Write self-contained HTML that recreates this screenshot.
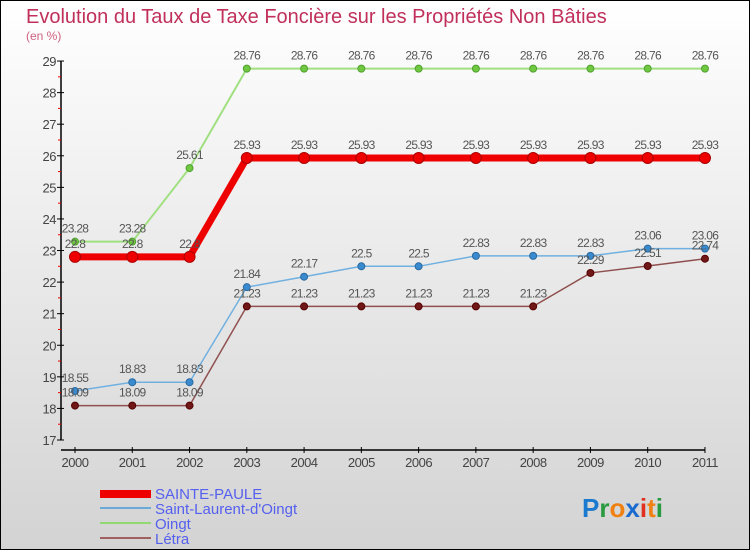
<!DOCTYPE html>
<html><head><meta charset="utf-8"><style>
body{margin:0}
#c{width:750px;height:550px;position:relative;background:linear-gradient(#fff,#d3d3d3);border:1px solid #000;box-sizing:border-box;overflow:hidden;font-family:"Liberation Sans",sans-serif}
</style></head><body>
<div id="c">
<svg id="s" width="750" height="550" style="position:absolute;left:-1px;top:-1px">
<text x="26" y="23" font-size="20" fill="#c0305a">Evolution du Taux de Taxe Foncière sur les Propriétés Non Bâties</text>
<text x="26" y="40" font-size="12" fill="#d06080">(en %)</text>
<g id="axes"></g><g id="series"></g>
<g>
<rect x="100" y="490" width="51" height="8" fill="#e00"/>
<text x="155" y="499" font-size="15" fill="#5560ee">SAINTE-PAULE</text>
<line x1="100" y1="508" x2="151" y2="508" stroke="#6aaad8" stroke-width="2"/>
<text x="155" y="514" font-size="15" fill="#5560ee">Saint-Laurent-d'Oingt</text>
<line x1="100" y1="523" x2="151" y2="523" stroke="#90d870" stroke-width="2"/>
<text x="155" y="529" font-size="15" fill="#5560ee">Oingt</text>
<line x1="100" y1="538" x2="151" y2="538" stroke="#a06060" stroke-width="2"/>
<text x="155" y="544" font-size="15" fill="#5560ee">Létra</text>
</g>
<text x="582" y="517" font-size="26" font-weight="bold"><tspan fill="#1a7ad0">P</tspan><tspan fill="#2a9a40">r</tspan><tspan fill="#f08010">o</tspan><tspan fill="#1a6ad0">x</tspan><tspan fill="#e03020">i</tspan><tspan fill="#f08010">t</tspan><tspan fill="#2a9a40">i</tspan></text>
</svg></div>
<script>
const years=[2000,2001,2002,2003,2004,2005,2006,2007,2008,2009,2010,2011];
const yTicks=[17,18,19,20,21,22,23,24,25,26,27,28,29];
const spVals=[22.8,22.8,22.8,25.93,25.93,25.93,25.93,25.93,25.93,25.93,25.93,25.93];
const sloVals=[18.55,18.83,18.83,21.84,22.17,22.5,22.5,22.83,22.83,22.83,23.06,23.06];
const oingtVals=[23.28,23.28,25.61,28.76,28.76,28.76,28.76,28.76,28.76,28.76,28.76,28.76];
const letraVals=[18.09,18.09,18.09,21.23,21.23,21.23,21.23,21.23,21.23,22.29,22.51,22.74];
const NS="http://www.w3.org/2000/svg";
const xS=i=>75+i*57.27;
const yS=v=>440-(v-17)*31.58;
function mk(t,a,p){const e=document.createElementNS(NS,t);for(const k in a)e.setAttribute(k,a[k]);p.appendChild(e);return e;}
const ax=document.getElementById('axes');
const yl=mk('line',{x1:61,y1:yS(29),x2:61,y2:440,stroke:'#000','stroke-width':1.5},ax);


yTicks.forEach(v=>{
 mk('line',{x1:57,y1:yS(v),x2:64,y2:yS(v),stroke:'#000'},ax);
 if(v<29)mk('line',{x1:58,y1:yS(v+0.5),x2:61,y2:yS(v+0.5),stroke:'#e00'},ax);
 const t=mk('text',{x:56,y:yS(v)+5,'font-size':13,fill:'#444','text-anchor':'end','letter-spacing':'-0.5'},ax);t.textContent=v;
 
 
});
const xl=mk('line',{x1:61,y1:450,x2:xS(11),y2:450,stroke:'#000','stroke-width':1.5},ax);


years.forEach((y,i)=>{
 mk('line',{x1:xS(i),y1:447,x2:xS(i),y2:453,stroke:'#000'},ax);
 const t=mk('text',{x:xS(i),y:467,'font-size':13,fill:'#444','text-anchor':'middle','letter-spacing':'-0.5'},ax);t.textContent=y;
 
 
});
const sg=document.getElementById('series');
function series(vals,name,col,w,dot,dotStroke,r){
 const g=mk('g',{},sg);
 
 
 mk('polyline',{points:vals.map((v,i)=>xS(i)+','+yS(v)).join(' '),fill:'none',stroke:col,'stroke-width':w},g);
 vals.forEach((v,i)=>{
  const c=mk('circle',{cx:xS(i),cy:yS(v),r:r,fill:dot,stroke:dotStroke},g);
  
  
  const t=mk('text',{x:xS(i),y:yS(v)-9,'font-size':12,fill:'#555','text-anchor':'middle','letter-spacing':'-0.7'},g);
  t.textContent=v;
  
  
 });
}
series(oingtVals,'oingt','#a0e080',2,'#70c840','#50a030',3.5);
series(spVals,'sainte-paule','#ee0000',7,'#ee0000','#a00',5.5);
series(sloVals,'saint-laurent','#70b0e0',1.5,'#3a8ad0','#2a6aa0',3.5);
series(letraVals,'letra','#905050',1.5,'#701818','#500',3.5);
</script>
</body></html>
